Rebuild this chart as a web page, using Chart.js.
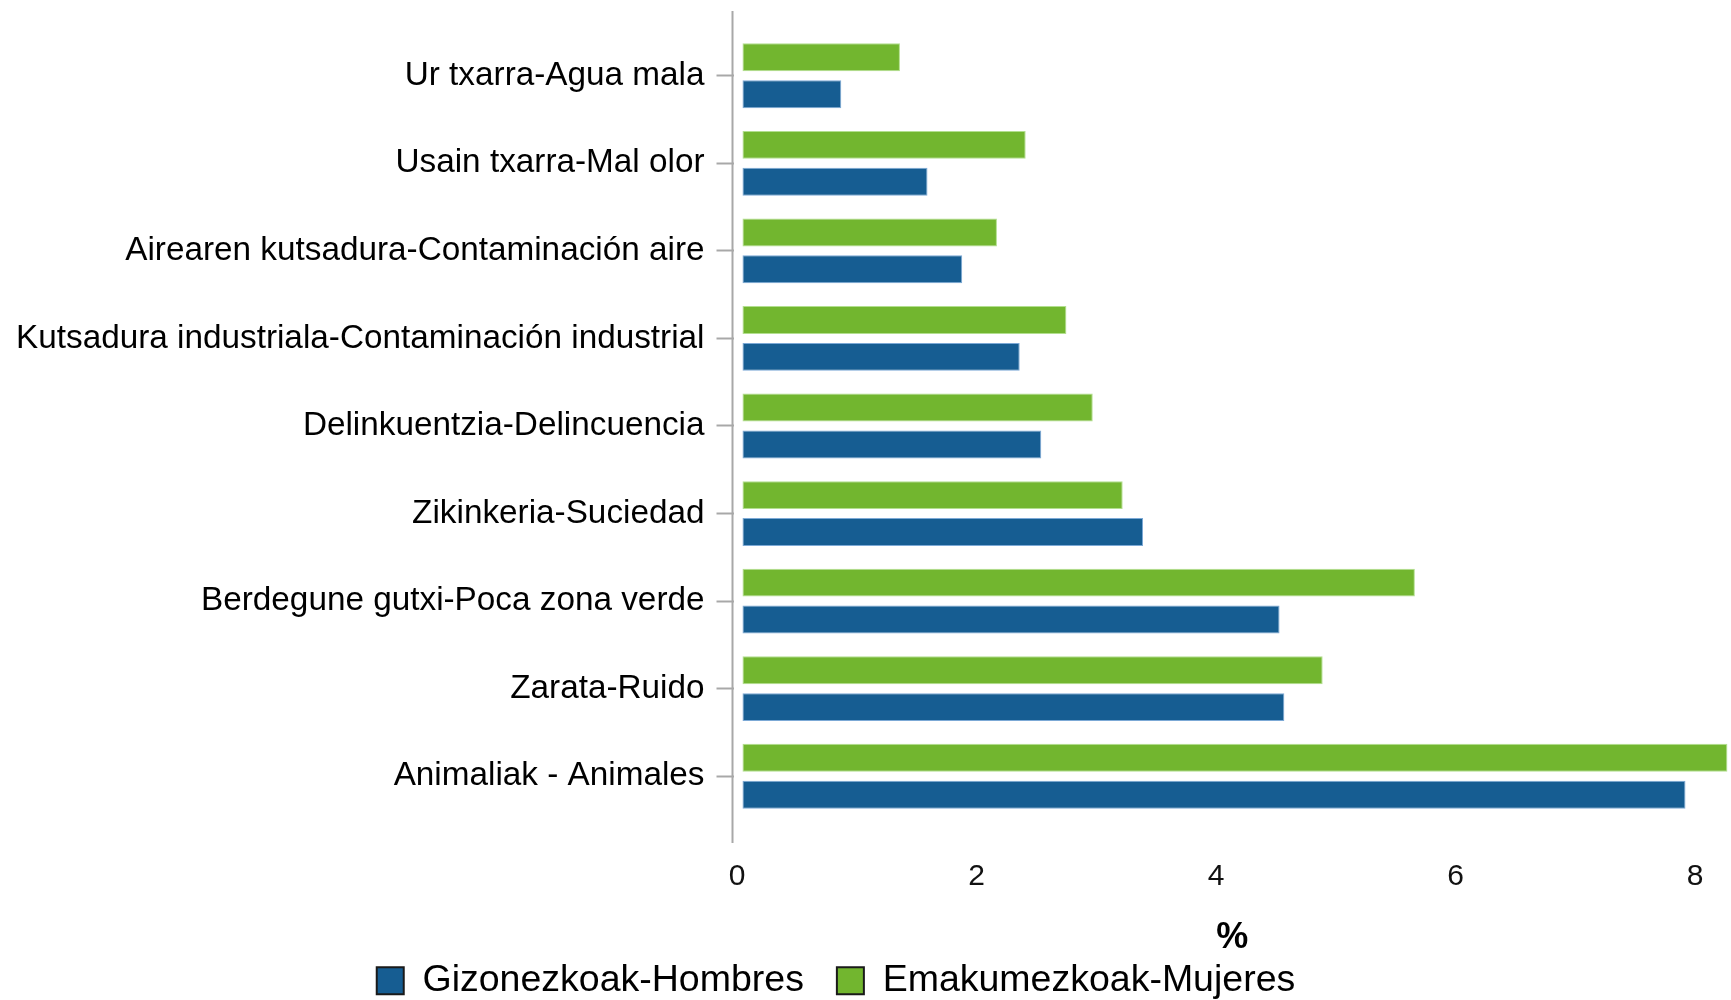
<!DOCTYPE html>
<html>
<head>
<meta charset="utf-8">
<script src="https://cdn.jsdelivr.net/npm/chart.js@4/dist/chart.umd.min.js"></script>
<style>
  html, body { margin: 0; padding: 0; background: #ffffff; }
  #wrap { width: 1731px; height: 1000px; position: relative; }
</style>
</head>
<body>
<div id="wrap"><canvas id="c"></canvas></div>
<script>
const categories = [
  "Ur txarra-Agua mala",
  "Usain txarra-Mal olor",
  "Airearen kutsadura-Contaminación aire",
  "Kutsadura industriala-Contaminación industrial",
  "Delinkuentzia-Delincuencia",
  "Zikinkeria-Suciedad",
  "Berdegune gutxi-Poca zona verde",
  "Zarata-Ruido",
  "Animaliak - Animales"
];
const hombres = [0.87, 1.59, 1.88, 2.36, 2.54, 3.39, 4.53, 4.57, 7.92];
const mujeres = [1.36, 2.41, 2.17, 2.75, 2.97, 3.22, 5.66, 4.89, 8.27];
const seriesNames = ["Gizonezkoak-Hombres", "Emakumezkoak-Mujeres"];
const xTickValues = [0, 2, 4, 6, 8];
const axisTitle = "%";

const BLUE = '#165d92';
const GREEN = '#72b62f';
const GRAY = '#a8a8a8';
const FONT = "'Liberation Sans', Arial, Helvetica, sans-serif";

const LEGEND_DX = -31.5;
const LEGEND_DY = 9.5;

const tweaks = {
  id: 'tweaks',
  afterLayout(chart) {
    const lg = chart.legend;
    if (lg) {
      lg.left += LEGEND_DX; lg.right += LEGEND_DX;
      lg.top += LEGEND_DY; lg.bottom += LEGEND_DY;
    }
  },
  beforeDatasetsDraw(chart) {
    const {ctx, chartArea} = chart;
    ctx.save();
    ctx.strokeStyle = GRAY;
    ctx.lineWidth = 2;
    ctx.beginPath();
    const x = chartArea.left - 1;
    ctx.moveTo(x, chartArea.top - 21);
    ctx.lineTo(x, chartArea.bottom + 23);
    ctx.stroke();
    ctx.restore();
  }
};

new Chart(document.getElementById('c'), {
  type: 'bar',
  data: {
    labels: categories,
    datasets: [
      {
        label: seriesNames[1],
        data: mujeres,
        backgroundColor: GREEN,
        borderColor: 'rgba(170,220,130,0.9)',
        borderWidth: 1,
        borderSkipped: false,
        base: 0.045,
        categoryPercentage: 0.843,
        barPercentage: 0.757
      },
      {
        label: seriesNames[0],
        data: hombres,
        backgroundColor: BLUE,
        borderColor: 'rgba(110,160,210,0.9)',
        borderWidth: 1,
        borderSkipped: false,
        base: 0.045,
        categoryPercentage: 0.843,
        barPercentage: 0.757
      }
    ]
  },
  options: {
    indexAxis: 'y',
    responsive: true,
    maintainAspectRatio: false,
    animation: false,
    layout: { padding: { top: 30, left: 4, right: 0, bottom: 0 } },
    scales: {
      x: {
        type: 'linear',
        min: -0.03,
        max: 8.30,
        afterBuildTicks(scale) {
          scale.ticks = xTickValues.map(v => ({ value: v }));
        },
        afterFit(scale) {
          scale.paddingLeft = 0;
          scale.paddingRight = 0;
        },
        grid: { display: false, drawTicks: false },
        border: { display: false },
        ticks: {
          padding: 39,
          color: '#111',
          font: { family: FONT, size: 30 },
          maxRotation: 0
        },
        title: {
          display: true,
          text: axisTitle,
          color: '#000',
          font: { family: FONT, size: 36, weight: 'bold' },
          padding: { top: -17.6, bottom: -40.1 }
        }
      },
      y: {
        type: 'category',
        offset: true,
        grid: {
          offset: false,
          drawOnChartArea: false,
          drawTicks: true,
          tickLength: 17,
          tickColor: GRAY,
          tickWidth: 2,
          color: GRAY
        },
        border: { display: false },
        ticks: {
          padding: 12,
          color: '#000',
          font: { family: FONT, size: 33.3 }
        }
      }
    },
    plugins: {
      legend: {
        position: 'bottom',
        reverse: true,
        labels: {
          boxWidth: 27,
          boxHeight: 27,
          padding: 33,
          color: '#000',
          font: { family: FONT, size: 37.5 },
          generateLabels(chart) {
            const items = Chart.defaults.plugins.legend.labels.generateLabels(chart);
            items.forEach(it => { it.strokeStyle = '#1a1a1a'; it.lineWidth = 2; });
            return items;
          }
        }
      },
      tooltip: { enabled: false }
    }
  },
  plugins: [tweaks]
});
</script>
</body>
</html>
